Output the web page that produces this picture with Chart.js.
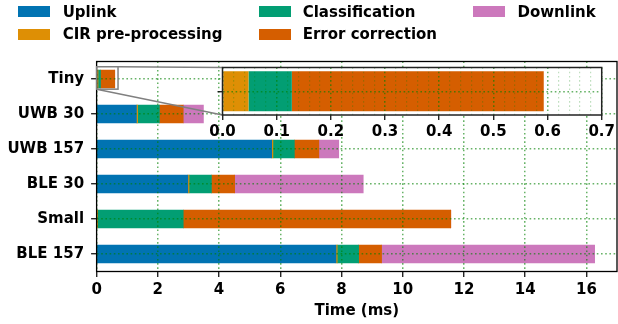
<!DOCTYPE html>
<html>
<head>
<meta charset="utf-8">
<script src="https://cdn.jsdelivr.net/npm/chart.js@4.4.1/dist/chart.umd.min.js"></script>
<style>
    body { margin: 0; background: #fff; }
    #wrap { position: relative; width: 618px; height: 324px; overflow: hidden;
            font-family: 'DejaVu Sans'; font-weight: bold; font-size: 15px; color: #000; }
    #main { position: absolute; left: 0; top: 0; }
    #inset { position: absolute; left: 200px; top: 58px; }
    .lg-box { position: absolute; width: 32px; height: 10.7px; }
    .lg-txt { position: absolute; line-height: 18px; white-space: nowrap; }
</style>
</head>
<body>
<div id="wrap">
    <canvas id="main" width="618" height="324"></canvas>
    <canvas id="inset" width="418" height="84"></canvas>
    <div id="legend"></div>
</div>
<script>
// Dados (ms)
const categorias = ['Tiny', 'UWB 30', 'UWB 157', 'BLE 30', 'Small', 'BLE 157'];
const uplink = [0, 1.30, 5.72, 2.98, 0, 7.82];
const cirPre = [0.048, 0.04, 0.04, 0.04, 0.03, 0.04];
const classificacao = [0.08, 0.71, 0.70, 0.73, 2.80, 0.70];
const correcao = [0.465, 0.78, 0.80, 0.76, 8.74, 0.75];
const downlink = [0, 0.66, 0.65, 4.20, 0, 6.96];

const xTicks = [0, 2, 4, 6, 8, 10, 12, 14, 16];
const insetTicks = [0.0, 0.1, 0.2, 0.3, 0.4, 0.5, 0.6, 0.7];
const xMax = 17;
const zoomMax = 0.7;

const series = [
    { nome: 'Uplink', valores: uplink, cor: '#0173B2' },
    { nome: 'CIR pre-processing', valores: cirPre, cor: '#DE8F05' },
    { nome: 'Classification', valores: classificacao, cor: '#029E73' },
    { nome: 'Error correction', valores: correcao, cor: '#D55E00' },
    { nome: 'Downlink', valores: downlink, cor: '#CC78BC' }
];

const fonte = { family: 'DejaVu Sans', weight: 'bold', size: 15 };
const corGrade = 'rgba(0,128,0,0.6)';
const tracoGrade = [1.6, 2.6];

// Legenda em HTML (3 colunas, preenchida por coluna como no matplotlib)
const legendaPos = [
    { box: 18.3, txt: 62.7, linha: 0 },
    { box: 18.3, txt: 62.7, linha: 1 },
    { box: 259, txt: 302.7, linha: 0 },
    { box: 259, txt: 302.7, linha: 1 },
    { box: 473, txt: 517.5, linha: 0 }
];
const legendaEl = document.getElementById('legend');
series.forEach((s, i) => {
    const p = legendaPos[i];
    const boxTop = p.linha === 0 ? 6 : 29.3;
    const txtTop = p.linha === 0 ? 2.6 : 24.6;
    legendaEl.insertAdjacentHTML('beforeend',
        `<div class="lg-box" style="left:${p.box}px;top:${boxTop}px;background:${s.cor}"></div>
         <div class="lg-txt" style="left:${p.txt}px;top:${txtTop}px">${s.nome}</div>`);
});

// Ticks menores do inset (0.02)
const insetMinor = [];
for (let i = 0; i <= 35; i++) insetMinor.push(+(i * 0.02).toFixed(2));
const ehMaior = v => insetTicks.some(t => Math.abs(t - v) < 1e-6);

// Inset (zoom no Tiny)
const insetPlugin = {
    id: 'insetFundo',
    beforeDraw(chart) {
        const { ctx, chartArea: a } = chart;
        ctx.save();
        ctx.fillStyle = '#fff';
        ctx.fillRect(a.left, a.top, a.right - a.left, a.bottom - a.top);
        ctx.restore();
    },
    afterDraw(chart) {
        const { ctx, chartArea: a } = chart;
        ctx.save();
        ctx.strokeStyle = '#222';
        ctx.lineWidth = 1.5;
        ctx.strokeRect(a.left, a.top, a.right - a.left, a.bottom - a.top);
        ctx.restore();
    }
};

const graficoInset = new Chart(document.getElementById('inset'), {
    type: 'bar',
    data: {
        labels: [categorias[0]],
        datasets: series.map(s => ({
            label: s.nome,
            data: [s.valores[0]],
            backgroundColor: s.cor,
            barPercentage: 0.84,
            categoryPercentage: 1
        }))
    },
    options: {
        indexAxis: 'y',
        responsive: false,
        animation: false,
        devicePixelRatio: 1,
        layout: { padding: { top: 9.5, right: 14, left: 0, bottom: 0 } },
        plugins: { legend: { display: false }, tooltip: { enabled: false } },
        scales: {
            x: {
                stacked: true, min: 0, max: zoomMax,
                afterBuildTicks: s => { s.ticks = insetMinor.map(v => ({ value: v })); },
                afterFit: s => { s.height = 27; },
                ticks: {
                    autoSkip: false, maxRotation: 0, padding: 3, color: '#000', font: fonte,
                    callback: v => ehMaior(v) ? v.toFixed(1) : ''
                },
                grid: {
                    z: 1,
                    color: c => (c.tick && ehMaior(c.tick.value)) ? corGrade : 'rgba(0,128,0,0.25)',
                    lineWidth: c => (c.tick && ehMaior(c.tick.value)) ? 1.5 : 1.2,
                    tickLength: 5,
                    tickWidth: 1.2,
                    tickColor: c => (c.tick && ehMaior(c.tick.value)) ? '#000' : 'rgba(0,0,0,0)',
                    tickBorderDash: []
                },
                border: { display: false, dash: tracoGrade }
            },
            y: {
                stacked: true,
                afterFit: s => { s.width = 22.5; },
                ticks: { display: false },
                grid: { z: 1, offset: false, color: corGrade, lineWidth: 1.5, tickLength: 5, tickWidth: 1.2, tickColor: '#000', tickBorderDash: [] },
                border: { display: false, dash: tracoGrade }
            }
        }
    },
    plugins: [insetPlugin]
});

// Moldura + retângulo de zoom + linhas de ligação
const marcadorZoom = {
    id: 'marcadorZoom',
    afterDraw(chart) {
        const { ctx, chartArea: a, scales: { x, y } } = chart;
        ctx.save();
        ctx.strokeStyle = '#000';
        ctx.lineWidth = 1.3;
        ctx.strokeRect(a.left, a.top, a.right - a.left, a.bottom - a.top);

        const x0 = x.getPixelForValue(0), x1 = x.getPixelForValue(zoomMax);
        const y0 = y.getPixelForValue(-0.35), y1 = y.getPixelForValue(0.29);
        const ia = graficoInset.chartArea;
        const offX = 200, offY = 58;
        ctx.strokeStyle = '#808080';
        ctx.lineWidth = 1.5;
        ctx.strokeRect(x0, y0, x1 - x0, y1 - y0);
        ctx.beginPath();
        ctx.moveTo(x1, y0);
        ctx.lineTo(ia.left + offX, ia.top + offY);
        ctx.moveTo(x0, y1);
        ctx.lineTo(ia.left + offX, ia.bottom + offY);
        ctx.stroke();
        ctx.restore();
    }
};

new Chart(document.getElementById('main'), {
    type: 'bar',
    data: {
        labels: categorias,
        datasets: series.map(s => ({
            label: s.nome,
            data: s.valores,
            backgroundColor: s.cor,
            barThickness: 18
        }))
    },
    options: {
        indexAxis: 'y',
        responsive: false,
        animation: false,
        devicePixelRatio: 1,
        layout: { padding: { top: 61.5, right: 1, left: 0, bottom: 0 } },
        plugins: { legend: { display: false }, tooltip: { enabled: false } },
        scales: {
            x: {
                stacked: true, min: 0, max: xMax,
                afterBuildTicks: s => { s.ticks = xTicks.map(v => ({ value: v })); },
                afterFit: s => { s.height = 52.5; },
                ticks: { autoSkip: false, maxRotation: 0, padding: 4, color: '#000', font: fonte },
                grid: { z: 1, color: corGrade, lineWidth: 1.5, tickLength: 5.5, tickWidth: 1.2, tickColor: '#000', tickBorderDash: [] },
                border: { display: false, dash: tracoGrade },
                title: { display: true, text: 'Time (ms)', color: '#000', font: fonte, padding: { top: 0, bottom: 4 } }
            },
            y: {
                stacked: true,
                afterFit: s => { s.width = 96.6; },
                ticks: { padding: 7, color: '#000', font: fonte },
                grid: { z: 1, offset: false, color: corGrade, lineWidth: 1.5, tickLength: 5.5, tickWidth: 1.2, tickColor: '#000', tickBorderDash: [] },
                border: { display: false, dash: tracoGrade }
            }
        }
    },
    plugins: [marcadorZoom]
});
</script>
</body>
</html>
